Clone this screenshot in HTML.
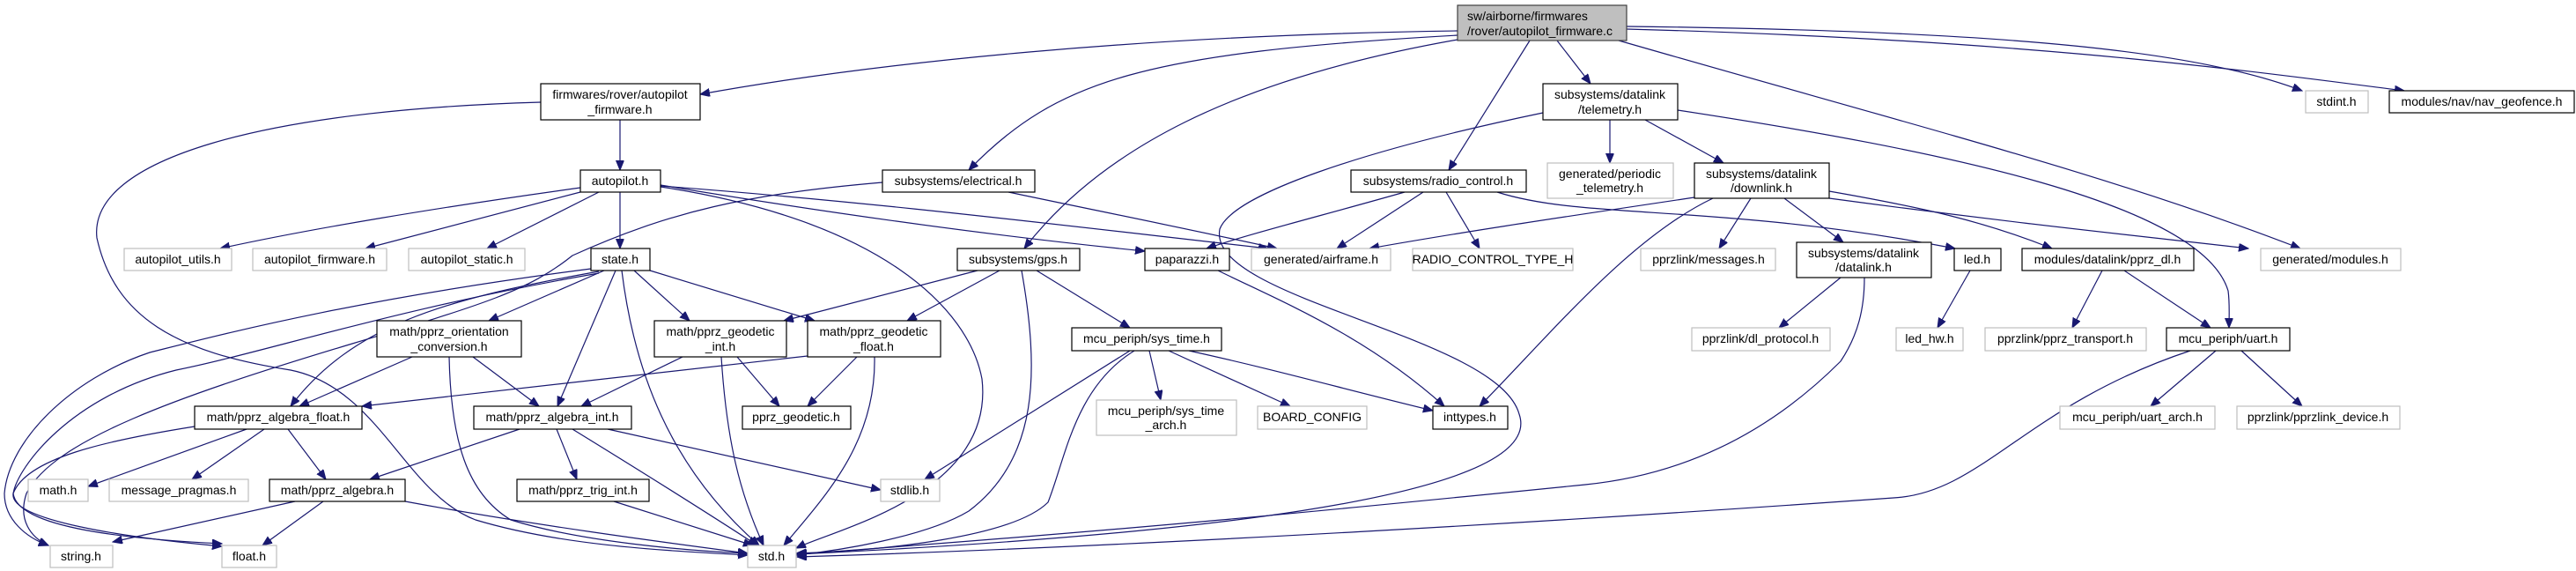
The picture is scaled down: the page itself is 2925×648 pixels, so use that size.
<!DOCTYPE html>
<html><head><meta charset="utf-8"><style>
html,body{margin:0;padding:0;background:#fff;}
svg{display:block;}
text{font-family:"Liberation Sans",sans-serif;font-size:14px;fill:#000;}
.e{fill:none;stroke:#191970;stroke-width:1.2;marker-end:url(#a);}
.n{fill:#fff;stroke:#000;stroke-width:1.2;}
.g{fill:#fff;stroke:#bfbfbf;stroke-width:1.2;}
</style></head><body>
<svg width="2925" height="648" viewBox="0 0 2925 648" xmlns="http://www.w3.org/2000/svg">
<defs><marker id="a" markerWidth="12" markerHeight="10" refX="11" refY="4.5" orient="auto" markerUnits="userSpaceOnUse"><path d="M0,0 L11,4.5 L0,9 z" fill="#191970" stroke="#191970"/></marker></defs>

<!-- edges -->
<path class="e" d="M1655,35 C1300,40 1000,70 795,107"/>
<path class="e" d="M1655,40 C1300,60 1200,90 1100,193"/>
<path class="e" d="M1655,45 C1400,90 1250,170 1163,282"/>
<path class="e" d="M1737,46 L1645,193"/>
<path class="e" d="M1768,46 L1806,95"/>
<path class="e" d="M1847,30 C2300,35 2500,60 2614,103"/>
<path class="e" d="M1847,33 C2300,45 2550,80 2730,103"/>
<path class="e" d="M1838,46 C2200,150 2400,200 2612,282"/>
<path class="e" d="M1752,128 C1550,170 1400,220 1385,260 C1370,340 1700,380 1725,470 C1760,570 1300,610 905,629"/>
<path class="e" d="M1868,136 L1957,185"/>
<path class="e" d="M1828,136 L1828,185"/>
<path class="e" d="M1905,125 C2200,170 2500,230 2530,330 C2532,345 2531,360 2531,372"/>
<path class="e" d="M1924,224 C1750,250 1650,265 1555,282"/>
<path class="e" d="M1945,225 C1850,270 1760,380 1680,461"/>
<path class="e" d="M1988,225 L1952,282"/>
<path class="e" d="M2026,225 L2093,275"/>
<path class="e" d="M1700,218 C1800,250 1950,230 2220,282"/>
<path class="e" d="M2077,217 C2180,235 2250,250 2330,282"/>
<path class="e" d="M2077,225 C2300,255 2450,270 2553,282"/>
<path class="e" d="M1616,218 L1518,282"/>
<path class="e" d="M1642,218 L1680,282"/>
<path class="e" d="M1595,218 C1500,245 1420,265 1370,282"/>
<path class="e" d="M2090,315 L2020,372"/>
<path class="e" d="M2117,315 C2117,350 2110,380 2090,410 C2000,500 1900,540 1800,550 C1500,580 1300,600 905,629"/>
<path class="e" d="M2237,307 L2200,372"/>
<path class="e" d="M2387,307 L2353,372"/>
<path class="e" d="M2412,307 L2510,372"/>
<path class="e" d="M2516,398 L2442,461"/>
<path class="e" d="M2545,398 L2614,461"/>
<path class="e" d="M2487,398 C2300,460 2250,560 2150,565 C1800,590 1300,620 905,632"/>
<path class="e" d="M704,136 L704,193"/>
<path class="e" d="M614,116 C300,125 100,180 110,270 C130,360 200,400 330,420 C430,440 460,560 540,590 C640,620 760,625 849,630"/>
<path class="e" d="M659,213 C500,235 350,260 250,282"/>
<path class="e" d="M659,218 L415,282"/>
<path class="e" d="M680,218 L553,282"/>
<path class="e" d="M704,218 L704,282"/>
<path class="e" d="M750,211 C1000,230 1200,255 1440,282"/>
<path class="e" d="M750,210 C900,235 1100,265 1300,285"/>
<path class="e" d="M750,212 C1000,250 1100,350 1115,430 C1130,560 950,600 904,622"/>
<path class="e" d="M1145,218 C1250,240 1350,260 1450,282"/>
<path class="e" d="M1002,207 C850,220 760,240 650,290 C600,330 550,345 400,390 C200,450 60,500 30,560 C20,590 35,610 55,619"/>
<path class="e" d="M671,305 C400,340 250,380 170,400 C80,430 10,500 5,560 C5,590 30,610 55,619"/>
<path class="e" d="M680,310 C450,350 300,400 200,420 C80,450 20,530 15,560 C20,600 150,612 252,617"/>
<path class="e" d="M680,308 C500,340 400,370 330,461"/>
<path class="e" d="M686,307 L555,364"/>
<path class="e" d="M699,307 L633,461"/>
<path class="e" d="M706,307 C720,420 760,530 862,619"/>
<path class="e" d="M720,307 L783,364"/>
<path class="e" d="M738,307 L925,364"/>
<path class="e" d="M1110,307 L890,364"/>
<path class="e" d="M1135,307 L1030,364"/>
<path class="e" d="M1160,307 C1180,420 1180,520 1100,580 C1050,610 950,625 904,630"/>
<path class="e" d="M1177,307 L1283,372"/>
<path class="e" d="M1383,307 C1450,340 1550,380 1640,461"/>
<path class="e" d="M775,405 L660,461"/>
<path class="e" d="M819,405 C825,500 840,560 867,619"/>
<path class="e" d="M837,405 L885,461"/>
<path class="e" d="M917,404 C700,430 550,445 411,461"/>
<path class="e" d="M973,405 L917,461"/>
<path class="e" d="M993,405 C995,500 940,560 890,619"/>
<path class="e" d="M1283,398 L1050,544"/>
<path class="e" d="M1288,398 C1220,440 1210,520 1190,570 C1150,610 1000,625 904,628"/>
<path class="e" d="M1305,398 L1318,454"/>
<path class="e" d="M1327,398 L1465,461"/>
<path class="e" d="M1350,398 C1450,420 1520,440 1627,466"/>
<path class="e" d="M468,405 L340,461"/>
<path class="e" d="M537,405 L612,461"/>
<path class="e" d="M510,405 C512,500 530,560 580,590 C660,615 780,625 849,628"/>
<path class="e" d="M221,484 C120,500 30,520 15,560 C10,590 140,610 252,620"/>
<path class="e" d="M280,487 L100,552"/>
<path class="e" d="M300,487 L218,544"/>
<path class="e" d="M327,487 L370,544"/>
<path class="e" d="M590,487 L420,544"/>
<path class="e" d="M632,487 L655,544"/>
<path class="e" d="M690,487 L1000,556"/>
<path class="e" d="M650,487 C720,530 800,580 860,619"/>
<path class="e" d="M335,569 L128,615"/>
<path class="e" d="M367,569 L298,619"/>
<path class="e" d="M460,569 C600,595 750,615 849,628"/>
<path class="e" d="M697,569 L855,619"/>

<!-- nodes -->
<rect x="1655" y="6" width="192" height="40" fill="#bfbfbf" stroke="#404040" stroke-width="1.2"/>
<text x="1666" y="23">sw/airborne/firmwares</text><text x="1666" y="40">/rover/autopilot_firmware.c</text>

<rect class="n" x="614" y="95" width="181" height="41"/><text x="704" y="112" text-anchor="middle">firmwares/rover/autopilot</text><text x="704" y="129" text-anchor="middle">_firmware.h</text>
<rect class="n" x="659" y="193" width="91" height="25"/><text x="704" y="210" text-anchor="middle">autopilot.h</text>
<rect class="n" x="1002" y="193" width="173" height="25"/><text x="1088" y="210" text-anchor="middle">subsystems/electrical.h</text>
<rect class="n" x="1534" y="193" width="199" height="25"/><text x="1633" y="210" text-anchor="middle">subsystems/radio_control.h</text>
<rect class="n" x="1752" y="95" width="153" height="41"/><text x="1828" y="112" text-anchor="middle">subsystems/datalink</text><text x="1828" y="129" text-anchor="middle">/telemetry.h</text>
<rect class="g" x="1757" y="185" width="143" height="40"/><text x="1828" y="202" text-anchor="middle">generated/periodic</text><text x="1828" y="218" text-anchor="middle">_telemetry.h</text>
<rect class="n" x="1924" y="185" width="153" height="40"/><text x="2000" y="202" text-anchor="middle">subsystems/datalink</text><text x="2000" y="218" text-anchor="middle">/downlink.h</text>
<rect class="g" x="2618" y="103" width="71" height="25"/><text x="2653" y="120" text-anchor="middle">stdint.h</text>
<rect class="n" x="2713" y="103" width="210" height="25"/><text x="2818" y="120" text-anchor="middle">modules/nav/nav_geofence.h</text>

<rect class="g" x="141" y="282" width="122" height="25"/><text x="202" y="299" text-anchor="middle">autopilot_utils.h</text>
<rect class="g" x="287" y="282" width="152" height="25"/><text x="363" y="299" text-anchor="middle">autopilot_firmware.h</text>
<rect class="g" x="464" y="282" width="132" height="25"/><text x="530" y="299" text-anchor="middle">autopilot_static.h</text>
<rect class="n" x="671" y="282" width="67" height="25"/><text x="704" y="299" text-anchor="middle">state.h</text>
<rect class="n" x="1087" y="282" width="139" height="25"/><text x="1156" y="299" text-anchor="middle">subsystems/gps.h</text>
<rect class="n" x="1300" y="282" width="96" height="25"/><text x="1348" y="299" text-anchor="middle">paparazzi.h</text>
<rect class="g" x="1421" y="282" width="158" height="25"/><text x="1500" y="299" text-anchor="middle">generated/airframe.h</text>
<rect class="g" x="1604" y="282" width="182" height="25"/><text x="1695" y="299" text-anchor="middle">RADIO_CONTROL_TYPE_H</text>
<rect class="g" x="1863" y="282" width="153" height="25"/><text x="1940" y="299" text-anchor="middle">pprzlink/messages.h</text>
<rect class="n" x="2040" y="275" width="153" height="40"/><text x="2116" y="292" text-anchor="middle">subsystems/datalink</text><text x="2116" y="308" text-anchor="middle">/datalink.h</text>
<rect class="n" x="2219" y="282" width="53" height="25"/><text x="2245" y="299" text-anchor="middle">led.h</text>
<rect class="n" x="2296" y="282" width="195" height="25"/><text x="2393" y="299" text-anchor="middle">modules/datalink/pprz_dl.h</text>
<rect class="g" x="2567" y="282" width="159" height="25"/><text x="2646" y="299" text-anchor="middle">generated/modules.h</text>

<rect class="n" x="428" y="364" width="164" height="41"/><text x="510" y="381" text-anchor="middle">math/pprz_orientation</text><text x="510" y="398" text-anchor="middle">_conversion.h</text>
<rect class="n" x="743" y="364" width="150" height="41"/><text x="818" y="381" text-anchor="middle">math/pprz_geodetic</text><text x="818" y="398" text-anchor="middle">_int.h</text>
<rect class="n" x="917" y="364" width="151" height="41"/><text x="992" y="381" text-anchor="middle">math/pprz_geodetic</text><text x="992" y="398" text-anchor="middle">_float.h</text>
<rect class="n" x="1217" y="372" width="170" height="26"/><text x="1302" y="389" text-anchor="middle">mcu_periph/sys_time.h</text>
<rect class="g" x="1921" y="372" width="157" height="26"/><text x="1999" y="389" text-anchor="middle">pprzlink/dl_protocol.h</text>
<rect class="g" x="2153" y="372" width="76" height="26"/><text x="2191" y="389" text-anchor="middle">led_hw.h</text>
<rect class="g" x="2254" y="372" width="183" height="26"/><text x="2345" y="389" text-anchor="middle">pprzlink/pprz_transport.h</text>
<rect class="n" x="2460" y="372" width="140" height="26"/><text x="2530" y="389" text-anchor="middle">mcu_periph/uart.h</text>

<rect class="n" x="221" y="461" width="190" height="26"/><text x="316" y="478" text-anchor="middle">math/pprz_algebra_float.h</text>
<rect class="n" x="538" y="461" width="179" height="26"/><text x="627" y="478" text-anchor="middle">math/pprz_algebra_int.h</text>
<rect class="n" x="843" y="461" width="123" height="26"/><text x="904" y="478" text-anchor="middle">pprz_geodetic.h</text>
<rect class="g" x="1245" y="454" width="159" height="40"/><text x="1324" y="471" text-anchor="middle">mcu_periph/sys_time</text><text x="1324" y="487" text-anchor="middle">_arch.h</text>
<rect class="g" x="1428" y="461" width="124" height="26"/><text x="1490" y="478" text-anchor="middle">BOARD_CONFIG</text>
<rect class="n" x="1627" y="461" width="85" height="26"/><text x="1669" y="478" text-anchor="middle">inttypes.h</text>
<rect class="g" x="2339" y="461" width="176" height="26"/><text x="2427" y="478" text-anchor="middle">mcu_periph/uart_arch.h</text>
<rect class="g" x="2540" y="461" width="185" height="26"/><text x="2632" y="478" text-anchor="middle">pprzlink/pprzlink_device.h</text>

<rect class="g" x="32" y="544" width="68" height="25"/><text x="66" y="561" text-anchor="middle">math.h</text>
<rect class="g" x="124" y="544" width="158" height="25"/><text x="203" y="561" text-anchor="middle">message_pragmas.h</text>
<rect class="n" x="306" y="544" width="154" height="25"/><text x="383" y="561" text-anchor="middle">math/pprz_algebra.h</text>
<rect class="n" x="587" y="544" width="150" height="25"/><text x="662" y="561" text-anchor="middle">math/pprz_trig_int.h</text>
<rect class="g" x="1000" y="544" width="67" height="25"/><text x="1033" y="561" text-anchor="middle">stdlib.h</text>

<rect class="g" x="57" y="619" width="71" height="25"/><text x="92" y="636" text-anchor="middle">string.h</text>
<rect class="g" x="252" y="619" width="62" height="25"/><text x="283" y="636" text-anchor="middle">float.h</text>
<rect class="g" x="849" y="619" width="55" height="25"/><text x="876" y="636" text-anchor="middle">std.h</text>
</svg>
</body></html>
